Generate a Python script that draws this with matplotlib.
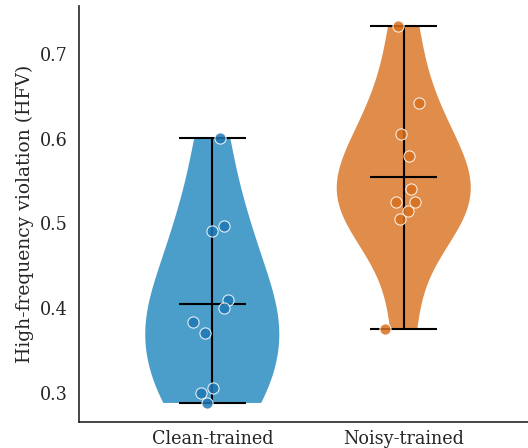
import numpy as np
import matplotlib.pyplot as plt

plt.rcParams['font.family'] = ['DejaVu Serif']

labels = ["Clean-trained", "Noisy-trained"]
clean = [0.601, 0.4965, 0.4906, 0.409, 0.400, 0.3835, 0.3706, 0.306, 0.300, 0.288]
noisy = [0.733, 0.642, 0.606, 0.580, 0.540, 0.525, 0.525, 0.514, 0.505, 0.375]
clean_jit = [0.04, 0.06, 0.0, 0.08, 0.06, -0.10, -0.04, 0.005, -0.06, -0.03]
noisy_jit = [-0.03, 0.08, -0.015, 0.025, 0.04, -0.04, 0.06, 0.02, -0.02, -0.10]

body_colors = ["#4b9dca", "#e08c4b"]
dot_colors = ["#1f78b4", "#d9701f"]

fig = plt.figure(figsize=(5.28, 4.48), dpi=100)
ax = fig.add_axes([79 / 528, 26 / 448, 449 / 528, 416 / 448])

parts = ax.violinplot([clean, noisy], positions=[0, 1], widths=0.7,
                      showmeans=True, showextrema=True)
for body, c in zip(parts["bodies"], body_colors):
    body.set_facecolor(c)
    body.set_edgecolor("none")
    body.set_alpha(1)
for key in ["cmeans", "cmins", "cmaxes", "cbars"]:
    parts[key].set_color("black")
    parts[key].set_linewidth(1.5)

for i, (vals, jit) in enumerate([(clean, clean_jit), (noisy, noisy_jit)]):
    ax.scatter(np.array(jit) + i, vals, s=65, color=dot_colors[i], alpha=0.85,
               edgecolors=(1, 1, 1, 0.6), linewidths=0.8, zorder=3)

ax.set_xlim(-0.696, 1.649)
ax.set_ylim(0.2655, 0.7565)
ax.set_xticks([0, 1])
ax.set_xticklabels(labels, fontsize=12.7, color="#262626")
ax.set_yticks([0.3, 0.4, 0.5, 0.6, 0.7])
ax.tick_params(axis="y", labelsize=12.7, labelcolor="#262626", length=0, pad=8)
ax.tick_params(axis="x", length=0, pad=6)
ax.set_ylabel("High-frequency violation (HFV)", fontsize=13.5, color="#262626",
              labelpad=4)
for s in ["top", "right"]:
    ax.spines[s].set_visible(False)
for s in ["left", "bottom"]:
    ax.spines[s].set_color("#262626")
    ax.spines[s].set_linewidth(1.2)

fig.savefig("out.png", dpi=100)
